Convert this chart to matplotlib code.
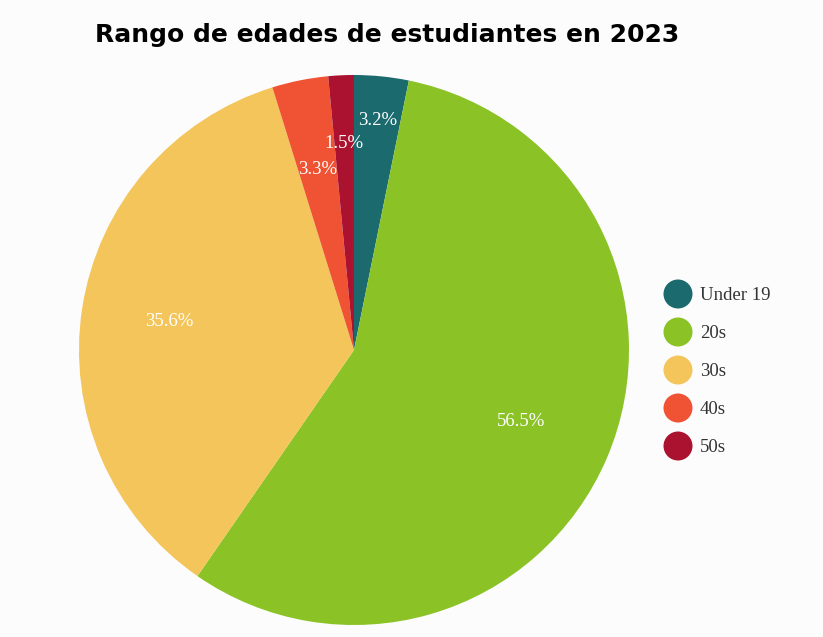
import matplotlib
matplotlib.use("Agg")
import matplotlib.pyplot as plt
import numpy as np

title = "Rango de edades de estudiantes en 2023"
categories = ["Under 19", "20s", "30s", "40s", "50s"]
values = [3.2, 56.5, 35.6, 3.3, 1.5]
colors = ["#1b6a6e", "#8bc327", "#f4c55b", "#ef5333", "#aa1230"]
label_dist = [0.84, 0.66, 0.68, 0.67, 0.75]

W, H = 823, 637
fig = plt.figure(figsize=(W/100, H/100), dpi=100)
fig.patch.set_facecolor("#fcfcfc")
ax = fig.add_axes([79/W, 12/H, 550/W, 550/H])
ax.set_facecolor("none")
wedges, _ = ax.pie(values, colors=colors, startangle=90, counterclock=False,
                   radius=1.0, wedgeprops=dict(linewidth=0))
ax.set_xlim(-1, 1)
ax.set_ylim(-1, 1)
ax.set_aspect("equal")
ax.axis("off")

for w, v, d in zip(wedges, values, label_dist):
    ang = np.deg2rad((w.theta1 + w.theta2) / 2)
    ax.text(d*np.cos(ang), d*np.sin(ang), f"{v}%", color="white", ha="center", va="center",
            fontsize=13.5, family="Liberation Serif")

fig.text(387/W, 1 - 35/H, title, ha="center", va="center", fontsize=18,
         fontweight="bold", family="DejaVu Sans")

# legend drawn in a pixel-coordinate overlay axes
lax = fig.add_axes([0, 0, 1, 1])
lax.set_xlim(0, W)
lax.set_ylim(H, 0)
lax.axis("off")
lax.set_facecolor("none")
for i, (c, name) in enumerate(zip(colors, categories)):
    y = 294 + i * 38
    lax.scatter([678], [y], s=(29*0.72)**2, color=c, edgecolors="none")
    lax.text(700, y + 1, name, ha="left", va="center", fontsize=13.5,
             family="Liberation Serif", color="#333333")

fig.savefig("out.png", dpi=100, facecolor=fig.get_facecolor())
